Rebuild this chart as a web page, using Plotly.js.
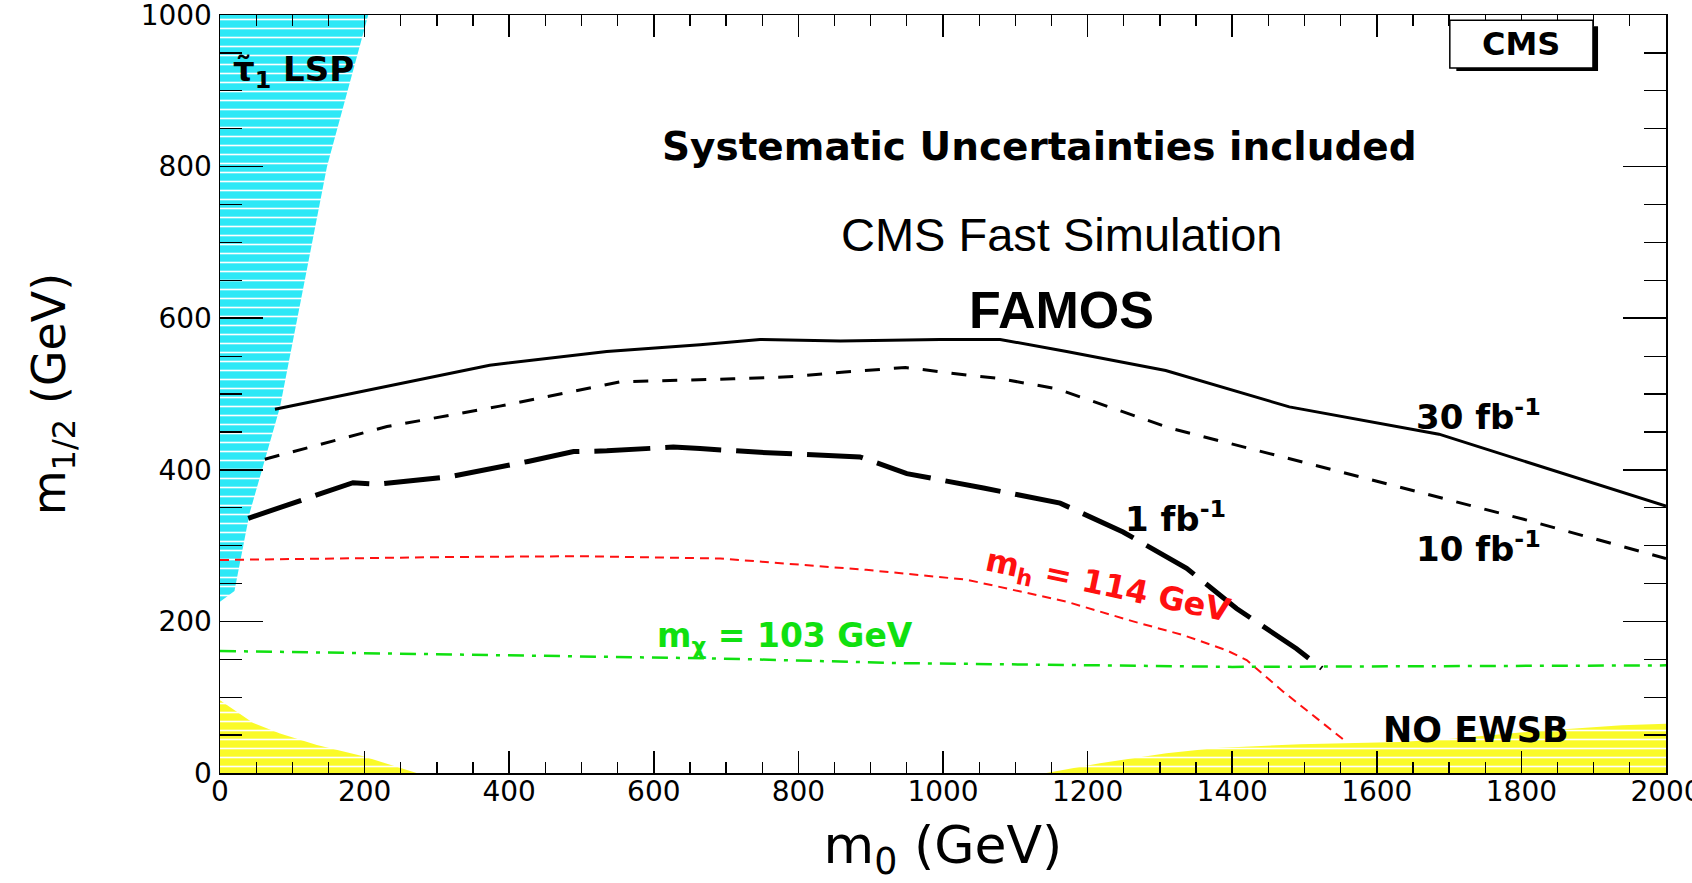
<!DOCTYPE html>
<html>
<head>
<meta charset="utf-8">
<script src="https://cdn.plot.ly/plotly-3.0.1.min.js"></script>
<style>
  html, body { margin: 0; padding: 0; background: #ffffff; overflow: hidden; }
  #chart { width: 1692px; height: 883px; }
</style>
</head>
<body>
<div id="chart"></div>
<script>
// ---- data (m0, m1/2 in GeV) ----
const stauLspM0   = [0, 20, 41, 83, 148, 205, 0];
const stauLspM12  = [226, 240, 343, 483, 800, 1000, 1000];

const noEwsbLeftM0  = [0, 0, 46, 83, 134, 198, 272];
const noEwsbLeftM12 = [0, 96, 66, 52, 37, 22, 0];

const noEwsbRightM0  = [1143, 1217, 1309, 1378, 1494, 1632, 1699, 1819, 1939, 2000, 2000];
const noEwsbRightM12 = [0, 13, 26, 33, 38, 41, 45, 55, 63, 65, 0];

const reach30M0  = [76, 373, 535, 664, 747, 858, 996, 1079, 1171, 1308, 1479, 1686, 2000];
const reach30M12 = [480, 538, 556, 565, 572, 570, 572, 572, 556, 531, 483, 447, 352];

const reach10M0  = [62, 231, 387, 553, 710, 793, 864, 948, 1033, 1074, 1157, 1236, 1314, 1539, 1806, 2000];
const reach10M12 = [414, 457, 484, 516, 520, 523, 529, 535, 525, 521, 507, 481, 455, 400, 334, 283];

const reach1M0  = [39, 184, 218, 318, 426, 489, 535, 627, 664, 747, 885, 950, 1056, 1162, 1249, 1337, 1406, 1489, 1524];
const reach1M12 = [336, 383, 381, 391, 411, 424, 425, 430, 428, 423, 417, 395, 376, 356, 318, 270, 217, 164, 138];

const higgsM0  = [0, 323, 500, 692, 894, 1033, 1171, 1263, 1332, 1392, 1420, 1471, 1558];
const higgsM12 = [281, 285, 286, 283, 268, 255, 226, 200, 182, 162, 149, 107, 41];

const charginoM0  = [0, 300, 692, 940, 1400, 2000];
const charginoM12 = [161, 157, 151, 145, 140, 142];

const xTickVals = [0, 200, 400, 600, 800, 1000, 1200, 1400, 1600, 1800, 2000];
const yTickVals = [0, 200, 400, 600, 800, 1000];

// ---- traces ----
const rootFont = "DejaVu Sans, Liberation Sans, Arial, sans-serif";
const rootBold = "DejaVu Sans, Liberation Sans, Arial, sans-serif";

const traces = [
  {
    x: stauLspM0, y: stauLspM12, type: 'scatter', mode: 'lines',
    fill: 'toself', line: {width: 0, color: 'rgba(0,0,0,0)'},
    fillcolor: '#3cecf8',
    fillpattern: {shape: '-', bgcolor: '#2ee8f6', fgcolor: '#ffffff', size: 9, solidity: 0.18},
    hoverinfo: 'skip', showlegend: false
  },
  {
    x: noEwsbLeftM0, y: noEwsbLeftM12, type: 'scatter', mode: 'lines',
    fill: 'toself', line: {width: 0, color: 'rgba(0,0,0,0)'},
    fillcolor: '#ffff33',
    fillpattern: {shape: '-', bgcolor: '#fafa28', fgcolor: '#ffffff', size: 9, solidity: 0.18},
    hoverinfo: 'skip', showlegend: false
  },
  {
    x: noEwsbRightM0, y: noEwsbRightM12, type: 'scatter', mode: 'lines',
    fill: 'toself', line: {width: 0, color: 'rgba(0,0,0,0)'},
    fillcolor: '#ffff33',
    fillpattern: {shape: '-', bgcolor: '#fafa28', fgcolor: '#ffffff', size: 9, solidity: 0.18},
    hoverinfo: 'skip', showlegend: false
  },
  {
    x: higgsM0, y: higgsM12, type: 'scatter', mode: 'lines',
    line: {color: '#ff1010', width: 2, dash: '9px,6px'},
    hoverinfo: 'skip', showlegend: false
  },
  {
    x: charginoM0, y: charginoM12, type: 'scatter', mode: 'lines',
    line: {color: '#10e010', width: 2.5, dash: '16px,8px,4px,8px'},
    hoverinfo: 'skip', showlegend: false
  },
  {
    x: reach30M0, y: reach30M12, type: 'scatter', mode: 'lines',
    line: {color: '#000000', width: 3},
    hoverinfo: 'skip', showlegend: false
  },
  {
    x: reach10M0, y: reach10M12, type: 'scatter', mode: 'lines',
    line: {color: '#000000', width: 3, dash: '15px,14px'},
    hoverinfo: 'skip', showlegend: false
  },
  {
    x: reach1M0, y: reach1M12, type: 'scatter', mode: 'lines',
    line: {color: '#000000', width: 5, dash: '56px,15px'},
    hoverinfo: 'skip', showlegend: false
  }
];

function note(text, x, y, size, opts) {
  return Object.assign({
    text: text, x: x, y: y, xref: 'x', yref: 'y', showarrow: false,
    xanchor: 'center', yanchor: 'middle',
    font: {family: rootBold, size: size, color: '#000000', weight: 'bold'}
  }, opts || {});
}

const annotations = [
  note('Systematic Uncertainties included', 1134, 827, 39),
  note('CMS Fast Simulation', 1164, 710, 47,
       {font: {family: 'Liberation Sans, Arial, sans-serif', size: 47, color: '#000000'}}),
  note('FAMOS', 1164, 611, 52,
       {font: {family: 'Liberation Sans, Arial, sans-serif', size: 52, color: '#000000', weight: 'bold'}}),
  note('CMS', 1800, 962, 32),
  note('τ\u0303<sub>1</sub> LSP', 102, 925, 34),
  note('30 fb<sup>-1</sup>', 1741, 472, 34),
  note('10 fb<sup>-1</sup>', 1740, 298, 34),
  note('1 fb<sup>-1</sup>', 1322, 338, 34),
  note('m<sub>h</sub> = 114 GeV', 1227, 245, 32,
       {textangle: 12, font: {family: rootBold, size: 32, color: '#ff1010', weight: 'bold'}}),
  note('m<sub>χ</sub> = 103 GeV', 781, 179, 33,
       {font: {family: rootBold, size: 33, color: '#10e010', weight: 'bold'}}),
  note('NO EWSB', 1737, 57, 35)
];

const shapes = [
  // CMS label shadow and box
  {type: 'rect', xref: 'x', yref: 'y', x0: 1710, x1: 1906, y0: 926, y1: 985,
   fillcolor: '#000000', line: {width: 0}, layer: 'above'},
  {type: 'rect', xref: 'x', yref: 'y', x0: 1701, x1: 1899, y0: 930, y1: 993,
   fillcolor: '#ffffff', line: {color: '#000000', width: 1.5}, layer: 'above'}
];

const layout = {
  width: 1692, height: 883,
  margin: {l: 220, r: 26, t: 15, b: 110},
  paper_bgcolor: '#ffffff', plot_bgcolor: '#ffffff',
  showlegend: false,
  font: {family: rootFont, color: '#000000'},
  xaxis: {
    range: [0, 2000], tickvals: xTickVals, ticktext: xTickVals.map(String),
    showgrid: false, zeroline: false,
    showline: true, linecolor: '#000000', linewidth: 1.5, mirror: 'allticks',
    ticks: 'inside', ticklen: 22, tickwidth: 1.5, tickcolor: '#000000',
    minor: {dtick: 50, tick0: 0, ticks: 'inside', ticklen: 11, tickwidth: 1.2, tickcolor: '#000000', showgrid: false},
    tickfont: {family: rootFont, size: 28, color: '#000000'},
    ticklabeloverflow: 'allow',
    ticklabelstandoff: -7,
    title: {text: 'm<sub>0</sub> (GeV)', font: {family: rootFont, size: 52, color: '#000000'}, standoff: 38},
    automargin: false, fixedrange: true
  },
  yaxis: {
    range: [0, 1000], tickvals: yTickVals, ticktext: yTickVals.map(String),
    showgrid: false, zeroline: false,
    showline: true, linecolor: '#000000', linewidth: 1.5, mirror: 'allticks',
    ticks: 'inside', ticklen: 43, tickwidth: 1.5, tickcolor: '#000000',
    minor: {dtick: 50, tick0: 0, ticks: 'inside', ticklen: 22, tickwidth: 1.2, tickcolor: '#000000', showgrid: false},
    tickfont: {family: rootFont, size: 28, color: '#000000'},
    ticklabeloverflow: 'allow',
    ticklabelstandoff: 1,
    title: {text: 'm<sub>1/2</sub> (GeV)', font: {family: rootFont, size: 46, color: '#000000'}, standoff: 60},
    automargin: false, fixedrange: true
  },
  annotations: annotations,
  shapes: shapes
};

Plotly.newPlot('chart', traces, layout, {displayModeBar: false, staticPlot: true});
</script>
</body>
</html>
